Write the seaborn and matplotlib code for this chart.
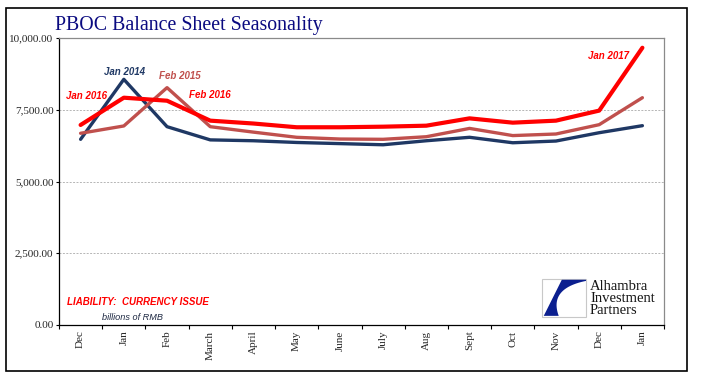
import numpy as np
import pandas as pd
import matplotlib.pyplot as plt
import matplotlib.ticker as mticker
from matplotlib.patches import Rectangle, Polygon
import seaborn as sns

months = ['Dec', 'Jan', 'Feb', 'March', 'April', 'May', 'June', 'July',
          'Aug', 'Sept', 'Oct', 'Nov', 'Dec', 'Jan']
y2014 = [6470, 8560, 6910, 6450, 6420, 6360, 6320, 6280, 6420, 6540, 6350, 6410, 6700, 6945]
y2015 = [6680, 6935, 8270, 6910, 6720, 6540, 6480, 6470, 6560, 6850, 6600, 6655, 6980, 7920]
y2016 = [6970, 7920, 7815, 7120, 7020, 6890, 6890, 6910, 6945, 7200, 7050, 7120, 7470, 9660]
yticks = [0, 2500, 5000, 7500, 10000]

data = pd.DataFrame({
    'pos': list(range(len(months))) * 3,
    'value': y2014 + y2015 + y2016,
    'series': ['2014'] * len(months) + ['2015'] * len(months) + ['2016'] * len(months),
})

sns.set_style("white")
plt.rcParams['font.family'] = ['Liberation Serif', 'DejaVu Serif']

colors = {'2014': '#1F3864', '2015': '#C0504D', '2016': '#FF0000'}
widths = {'2014': 2.4, '2015': 2.4, '2016': 3.0}

fig = plt.figure(figsize=(7.05, 3.81), dpi=100)
ax = fig.add_axes([59 / 705, 56 / 381, 605 / 705, 287 / 381])

for s in ['2014', '2015', '2016']:
    sns.lineplot(x='pos', y='value', data=data[data['series'] == s], ax=ax,
                 color=colors[s], linewidth=widths[s], legend=False)

ax.set_xlim(-0.5, len(months) - 0.5)
ax.set_ylim(0, 10000)
ax.set_xlabel('')
ax.set_ylabel('')

# tick marks on the category boundaries, labels at the centers
ax.set_xticks(np.arange(-0.5, len(months), 1.0))
ax.set_xticklabels([])
ax.set_xticks(range(len(months)), minor=True)
ax.set_xticklabels(months, minor=True, rotation=90, fontsize=8)
ax.tick_params(axis='x', which='major', direction='out', length=3, width=0.8, color='black', bottom=True)
ax.tick_params(axis='x', which='minor', length=0, pad=4)

ax.set_yticks(yticks)
ax.yaxis.set_major_formatter(mticker.FuncFormatter(lambda v, p: f"{v:,.2f}"))
ax.tick_params(axis='y', direction='out', length=2, width=0.8, color='black', left=True, labelsize=8, pad=2)

for v in yticks[1:-1]:
    ax.axhline(v, color='#b5b5b5', linestyle=(0, (2, 1.5)), linewidth=0.7, zorder=0)

for side in ['left', 'bottom']:
    ax.spines[side].set_color('black')
    ax.spines[side].set_linewidth(0.9)
for side in ['top', 'right']:
    ax.spines[side].set_color('#8a8a8a')
    ax.spines[side].set_linewidth(0.9)

# outer frame
fig.patches.append(Rectangle((6 / 705, 10 / 381), 681 / 705, 363 / 381, transform=fig.transFigure,
                             fill=False, edgecolor='black', linewidth=1.2))

fig.text(55 / 705, 1 - 30 / 381, 'PBOC Balance Sheet Seasonality', color='#0a0a80',
         fontsize=14.3, va='baseline', ha='left')


def note(x, y, txt, color, ha='center', size=7, weight='bold'):
    fig.text(x / 705, 1 - y / 381, txt, color=color, ha=ha, va='center', fontsize=size,
             fontweight=weight, style='italic', family=['Liberation Sans', 'DejaVu Sans'])


note(125, 72, 'Jan 2014', colors['2014'])
note(180, 76, 'Feb 2015', colors['2015'])
note(210, 95, 'Feb 2016', colors['2016'])
note(86, 96, 'Jan 2016', colors['2016'])
note(608, 56, 'Jan 2017', colors['2016'])
note(67, 302, 'LIABILITY:  CURRENCY ISSUE', '#FF0000', ha='left', size=7)
note(102, 317, 'billions of RMB', '#1f2a44', ha='left', size=6.6, weight='normal')

# logo
lx0, ly0, lw, lh = 542 / 705, 1 - 317 / 381, 44 / 705, 38 / 381
fig.patches.append(Rectangle((lx0, ly0), lw, lh, transform=fig.transFigure,
                             facecolor='white', edgecolor='#c8c8c8', linewidth=0.8))
t = np.linspace(0, 1, 30)[:, None]
p0, p1, p2 = np.array([0.38, 0.03]), np.array([0.15, 0.75]), np.array([1.0, 0.95])
curve = (1 - t) ** 2 * p0 + 2 * (1 - t) * t * p1 + t ** 2 * p2
shape = [(0.04, 0.03)] + [tuple(c) for c in curve] + [(1.0, 0.98), (0.45, 0.98)]
shape = [(lx0 + a * lw, ly0 + b * lh) for a, b in shape]
fig.patches.append(Polygon(shape, closed=True, transform=fig.transFigure,
                           facecolor='#0b1f8f', edgecolor='none'))
for i, word in enumerate(['Alhambra', 'Investment', 'Partners']):
    fig.text(590 / 705, 1 - (287 + 11.5 * i) / 381, word, fontsize=10.5, color='#151515',
             ha='left', va='center')

plt.savefig('out.png', dpi=100)
